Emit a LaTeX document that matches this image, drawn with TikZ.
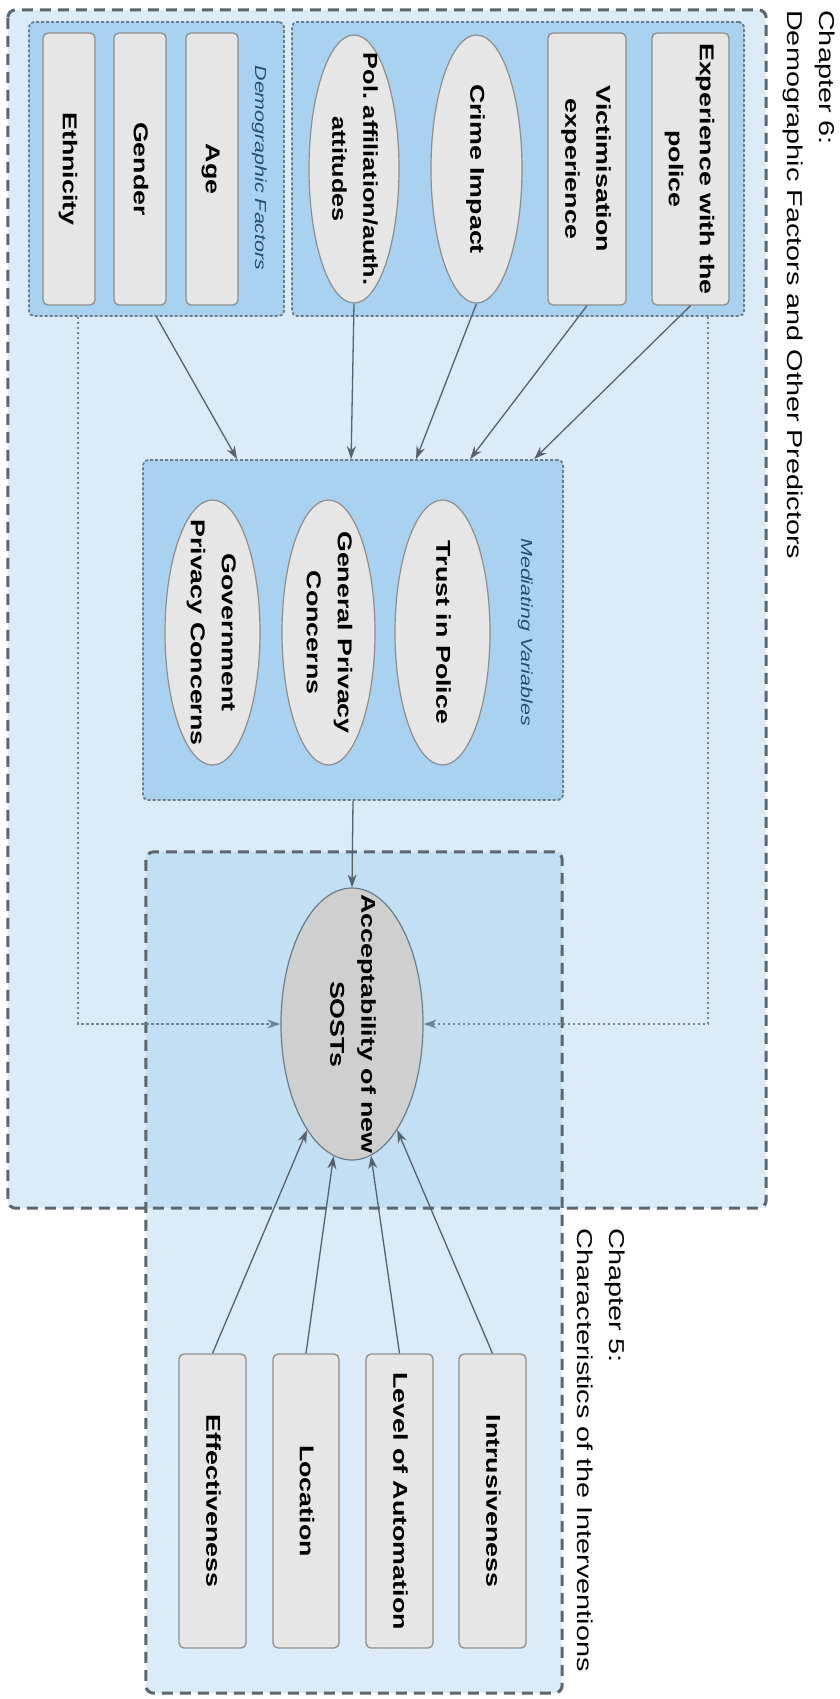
\documentclass[tikz,border=0pt]{standalone}
\usepackage{fontspec}
\setmainfont{Liberation Sans}
\usetikzlibrary{shapes.geometric,arrows.meta,calc}
\definecolor{bgout}{HTML}{DCEBF8}
\definecolor{bgover}{HTML}{C3DFF4}
\definecolor{grpfill}{HTML}{A9D2F0}
\definecolor{nodefill}{HTML}{E6E6E6}
\definecolor{nodeline}{HTML}{8E8E8E}
\definecolor{acceptfill}{HTML}{CFCFCF}
\definecolor{dashcol}{HTML}{5B6670}
\definecolor{grpline}{HTML}{6A7D8C}
\definecolor{arrowcol}{HTML}{56626C}
\definecolor{dotcol}{HTML}{6F8596}
\definecolor{lblcol}{HTML}{2A4A72}
% text is stretched along its reading direction, as in the reference
\newcommand{\rt}[1]{\rotatebox{-90}{\scalebox{1.34}[1]{\begin{tabular}{@{}c@{}}#1\end{tabular}}}}
\newcommand{\rtn}[1]{\rotatebox{-90}{\scalebox{1.26}[1]{\begin{tabular}{@{}c@{}}#1\end{tabular}}}}
\newcommand{\rtl}[1]{\rotatebox{-90}{\scalebox{1.34}[1]{\begin{tabular}{@{}l@{}}#1\end{tabular}}}}
\tikzset{
  nodefont/.style={font={\fontsize{20}{31}\selectfont\bfseries}},
  rbox/.style={rectangle, draw=nodeline, fill=nodefill, line width=1.3pt, rounded corners=5pt, inner sep=0pt, nodefont},
  ell/.style={ellipse, draw=nodeline, fill=nodefill, line width=1.2pt, inner sep=0pt},
  txt/.style={inner sep=0pt, nodefont},
  chfill/.style={rectangle, fill=bgout, inner sep=0pt},
  chborder/.style={draw=dashcol, line width=3pt, dash pattern=on 11pt off 7pt, rounded corners=8pt},
  grp/.style={rectangle, fill=grpfill, draw=grpline, line width=1.8pt, dash pattern=on 3pt off 2pt, rounded corners=5pt, inner sep=0pt},
  grplbl/.style={inner sep=0pt, text=lblcol, font={\itshape\fontsize{16}{20}\selectfont}},
  titlenode/.style={inner sep=0pt, text=black, font={\fontsize{21.5}{32}\selectfont}},
  arr/.style={draw=arrowcol, line width=1.3pt, -{Stealth[length=13pt,width=9pt]}},
  dotarr/.style={draw=dotcol, line width=2pt, dash pattern=on 2.5pt off 2.5pt, -{Stealth[length=13pt,width=9pt]}},
}
\begin{document}
\begin{tikzpicture}[x=1pt,y=-1pt]
\useasboundingbox (0,0) rectangle (839,1699);
% chapter backgrounds
\node[chfill, minimum width=758pt, minimum height=1198pt] (ch6) at (387,609) {};
\node[chfill, minimum width=416pt, minimum height=841pt] (ch5) at (354,1272.5) {};
\fill[bgover] (ch5.north west) rectangle (ch5.north east |- ch6.south);
% groups
\node[grp, minimum width=255pt, minimum height=294pt] (demo) at (156.5,169) {};
\node[grp, minimum width=452pt, minimum height=294pt] (pred) at (518,169) {};
\node[grp, minimum width=420pt, minimum height=340pt] (med) at (353,630) {};
% chapter borders
\draw[chborder] (ch6.north west) rectangle (ch6.south east);
\draw[chborder] (ch5.north west) rectangle (ch5.south east);
% titles
\node[titlenode, anchor=north east] (t6) at (842,10) {\rtl{Chapter 6:\\Demographic Factors and Other Predictors}};
\node[titlenode, anchor=north east] (t5) at (632,1228) {\rtl{Chapter 5:\\Characteristics of the Interventions}};
% group labels
\node[grplbl] (demoL) at (259,168) {\rt{Demographic Factors}};
\node[grplbl] (medL) at (525,632) {\rt{Mediating Variables}};
% demographic factors
\node[rbox, minimum width=52pt, minimum height=272pt] (eth) at (69,169) {\rt{Ethnicity}};
\node[rbox, minimum width=52pt, minimum height=272pt] (gen) at (140,169) {\rt{Gender}};
\node[rbox, minimum width=52pt, minimum height=272pt] (age) at (212,169) {\rt{Age}};
% other predictors
\node[ell, minimum width=90pt, minimum height=268pt] (pol) at (354,169) {};
\node[txt] (polT) at (pol.center) {\rtn{Pol.\ affiliation/auth.\\attitudes}};
\node[ell, minimum width=91pt, minimum height=268pt] (crime) at (476.5,169) {};
\node[txt] (crimeT) at (crime.center) {\rt{Crime Impact}};
\node[rbox, minimum width=78pt, minimum height=272pt] (vic) at (587,169) {\rt{Victimisation\\experience}};
\node[rbox, minimum width=77pt, minimum height=272pt] (exp) at (690.5,169) {\rt{Experience with the\\police}};
% mediating
\node[ell, minimum width=95pt, minimum height=265pt] (gov) at (212.5,632.5) {};
\node[txt] (govT) at (gov.center) {\rt{Government\\Privacy Concerns}};
\node[ell, minimum width=93pt, minimum height=265pt] (genp) at (328.5,632.5) {};
\node[txt] (genpT) at (genp.center) {\rt{General Privacy\\Concerns}};
\node[ell, minimum width=95pt, minimum height=265pt] (trust) at (442.5,632.5) {};
\node[txt] (trustT) at (trust.center) {\rt{Trust in Police}};
% outcome
\node[ell, fill=acceptfill, draw=grpline, minimum width=142pt, minimum height=272pt] (acc) at (352,1024) {};
\node[txt] (accT) at (acc.center) {\rt{Acceptability of new\\SOSTs}};
% chapter 5 characteristics
\node[rbox, minimum width=67pt, minimum height=294pt] (eff) at (212.5,1501) {\rt{Effectiveness}};
\node[rbox, minimum width=66pt, minimum height=294pt] (loc) at (306,1501) {\rt{Location}};
\node[rbox, minimum width=67pt, minimum height=294pt] (lev) at (399.5,1501) {\rt{Level of Automation}};
\node[rbox, minimum width=67pt, minimum height=294pt] (intr) at (492.5,1501) {\rt{Intrusiveness}};
% arrow targets on mediating box
\coordinate (m1) at ($(med.north west)+(95,0)$);
\coordinate (m2) at ($(med.north west)+(209,0)$);
\coordinate (m3) at ($(med.north west)+(274,0)$);
\coordinate (m4) at ($(med.north west)+(328,0)$);
\coordinate (m5) at ($(med.north west)+(392,0)$);
\draw[arr] (demo.south) -- (m1);
\draw[arr] (pol.south) -- (m2);
\draw[arr] (crime.south) -- (m3);
\draw[arr] (vic.south) -- (m4);
\draw[arr] (exp.south) -- (m5);
\draw[arr] (med.south) -- (acc.north);
\draw[arr] (eff.north) -- (acc);
\draw[arr] (loc.north) -- (acc);
\draw[arr] (lev.north) -- (acc);
\draw[arr] (intr.north) -- (acc);
\draw[dotarr] ($(demo.south west)+(50,0)$) |- (acc.west);
\draw[dotarr] ($(pred.south east)+(-37,0)$) |- (acc.east);
\end{tikzpicture}
\end{document}
